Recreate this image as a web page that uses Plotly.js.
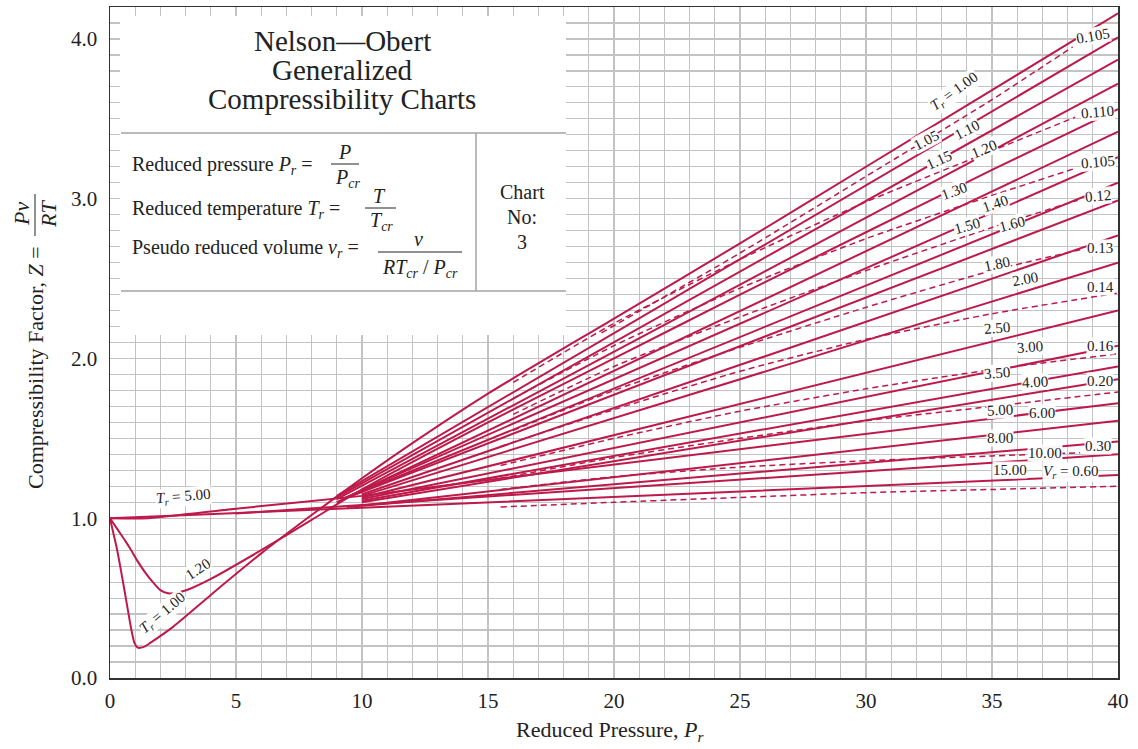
<!DOCTYPE html>
<html><head><meta charset="utf-8">
<script src="https://cdn.plot.ly/plotly-3.0.1.min.js"></script>
<style>html,body{margin:0;padding:0;background:#fff}#chart{width:1138px;height:749px}</style>
</head><body><div id="chart"></div>
<script>
// ---------------- data ----------------
const xTickVals = [0, 5, 10, 15, 20, 25, 30, 35, 40];
const xTickText = ['0', '5', '10', '15', '20', '25', '30', '35', '40'];
const yTickVals = [0, 1, 2, 3, 4];
const yTickText = ['0.0', '1.0', '2.0', '3.0', '4.0'];

// isotherms (solid), reduced temperature Tr
const tr100P = [0, 0.1, 0.26, 0.45, 0.65, 0.85, 0.97, 1.1, 1.35, 1.6, 2.5, 4, 6, 8, 10, 12, 15, 20, 25, 30, 35, 40];
const tr100Z = [1.0, 0.93, 0.82, 0.66, 0.48, 0.30, 0.22, 0.19, 0.195, 0.22, 0.32, 0.52, 0.78, 1.02, 1.25, 1.47, 1.78, 2.25, 2.72, 3.20, 3.68, 4.16];
const tr105P = [9, 40];   const tr105Z = [1.14, 4.01];
const tr110P = [9, 40];   const tr110Z = [1.13, 3.87];
const tr115P = [9, 40];   const tr115Z = [1.12, 3.72];
const tr120P = [0, 0.3, 0.6, 0.8, 1.1, 1.4, 1.7, 2.0, 2.3, 2.7, 3.2, 4, 6, 8, 10, 15, 20, 25, 30, 35, 40];
const tr120Z = [1.0, 0.93, 0.86, 0.81, 0.73, 0.66, 0.60, 0.55, 0.53, 0.535, 0.56, 0.62, 0.80, 0.99, 1.18, 1.60, 2.00, 2.40, 2.79, 3.18, 3.56];
const tr130P = [9, 40];   const tr130Z = [1.10, 3.42];
const tr140P = [9.2, 40]; const tr140Z = [1.12, 3.26];
const tr150P = [9.4, 40]; const tr150Z = [1.13, 3.10];
const tr160P = [9.6, 40]; const tr160Z = [1.14, 2.99];
const tr180P = [10, 40];  const tr180Z = [1.15, 2.77];
const tr200P = [10, 40];  const tr200Z = [1.14, 2.60];
const tr250P = [10, 40];  const tr250Z = [1.13, 2.30];
const tr300P = [10, 40];  const tr300Z = [1.12, 2.08];
const tr350P = [10, 40];  const tr350Z = [1.11, 1.95];
const tr400P = [10, 40];  const tr400Z = [1.10, 1.87];
const tr500P = [0, 1.5, 5, 10, 15, 40]; const tr500Z = [1.0, 1.0, 1.06, 1.14, 1.24, 1.72];
const tr600P = [10, 40];  const tr600Z = [1.08, 1.61];
const tr800P = [9.4, 40]; const tr800Z = [1.07, 1.48];
const tr1000P = [5, 40];  const tr1000Z = [1.03, 1.40];
const tr1500P = [0, 10, 40]; const tr1500Z = [1.0, 1.065, 1.27];

// constant pseudo reduced volume (dashed)
const vrA_P = [19.5, 25, 30, 35, 38.2];      const vrA_Z = [2.16, 2.66, 3.14, 3.62, 3.95];
const vrB_P = [16, 20, 25, 30, 35, 38.3];    const vrB_Z = [1.85, 2.22, 2.62, 2.98, 3.30, 3.51];
const vrC_P = [16, 20, 25, 30, 35, 38.3];    const vrC_Z = [1.75, 2.08, 2.44, 2.75, 3.02, 3.19];
const vrD_P = [16, 20, 25, 30, 35, 38.4];    const vrD_Z = [1.65, 1.95, 2.26, 2.55, 2.82, 2.99];
const vrE_P = [16, 20, 25, 30, 35, 38.5];    const vrE_Z = [1.55, 1.80, 2.07, 2.32, 2.55, 2.68];
const vrF_P = [15.5, 20, 25, 30, 35, 40];    const vrF_Z = [1.45, 1.68, 1.92, 2.12, 2.28, 2.41];
const vrG_P = [15.5, 20, 25, 30, 35, 40];    const vrG_Z = [1.33, 1.50, 1.67, 1.81, 1.93, 2.03];
const vrH_P = [15.5, 20, 25, 30, 35, 40];    const vrH_Z = [1.25, 1.38, 1.50, 1.61, 1.70, 1.79];
const vrI_P = [15.5, 20, 25, 30, 35, 38.5];  const vrI_Z = [1.18, 1.26, 1.32, 1.36, 1.39, 1.41];
const vrJ_P = [15.5, 20, 25, 30, 35, 40];    const vrJ_Z = [1.07, 1.10, 1.13, 1.16, 1.18, 1.20];

// label texts
const trLabels = ['<i>T<sub>r</sub></i> = 1.00', '1.05', '1.10', '1.15', '1.20', '1.30', '1.40', '1.50', '1.60', '1.80',
  '2.00', '2.50', '3.00', '3.50', '4.00', '5.00', '6.00', '8.00', '10.00', '15.00'];
const vrLabels = ['0.105', '0.110', '0.105', '0.12', '0.13', '0.14', '0.16', '0.20', '0.30', '<i>V<sub>r</sub></i> = 0.60'];
const lowLabels = ['<i>T<sub>r</sub></i> = 5.00', '1.20', '<i>T<sub>r</sub></i> = 1.00'];

// ---------------- style & layout ----------------
const RED = '#bd1a4b';
const FONT = 'Liberation Serif, Times New Roman, serif';
const solids = [
  [tr100P, tr100Z, true], [tr105P, tr105Z], [tr110P, tr110Z], [tr115P, tr115Z], [tr120P, tr120Z, true],
  [tr130P, tr130Z], [tr140P, tr140Z], [tr150P, tr150Z], [tr160P, tr160Z], [tr180P, tr180Z],
  [tr200P, tr200Z], [tr250P, tr250Z], [tr300P, tr300Z], [tr350P, tr350Z], [tr400P, tr400Z],
  [tr500P, tr500Z, true], [tr600P, tr600Z], [tr800P, tr800Z], [tr1000P, tr1000Z], [tr1500P, tr1500Z, true]
];
const dashed = [[vrA_P, vrA_Z], [vrB_P, vrB_Z], [vrC_P, vrC_Z], [vrD_P, vrD_Z], [vrE_P, vrE_Z],
  [vrF_P, vrF_Z], [vrG_P, vrG_Z], [vrH_P, vrH_Z], [vrI_P, vrI_Z], [vrJ_P, vrJ_Z]];

const traces = [];
solids.forEach(s => traces.push({
  x: s[0], y: s[1], type: 'scatter', mode: 'lines', hoverinfo: 'skip',
  line: {color: RED, width: 2, shape: s[2] ? 'spline' : 'linear', smoothing: 0.6}
}));
dashed.forEach(s => traces.push({
  x: s[0], y: s[1], type: 'scatter', mode: 'lines', hoverinfo: 'skip',
  line: {color: RED, width: 1.5, dash: '6px,4px', shape: 'spline', smoothing: 0.6}
}));

// label placement (layout, not data)
const trPos = [[33.5, 3.67, -36], [32.4, 3.37, -28], [34.0, 3.43, -27], [32.9, 3.24, -25], [34.7, 3.31, -23],
  [33.5, 3.05, -20], [35.1, 2.97, -19], [34.0, 2.83, -16], [35.8, 2.84, -15], [35.2, 2.59, -12],
  [36.3, 2.50, -10], [35.2, 2.19, -5], [36.5, 2.07, -4], [35.2, 1.91, -5], [36.7, 1.85, -3],
  [35.3, 1.68, -3], [37.0, 1.66, 0], [35.3, 1.50, 0], [37.1, 1.41, 0], [35.7, 1.30, 0]];
const vrPos = [[39.0, 4.02, -10], [39.2, 3.54, -5], [39.2, 3.23, -5], [39.2, 3.02, -5], [39.3, 2.69, 0],
  [39.3, 2.45, 0], [39.3, 2.08, 0], [39.3, 1.86, 0], [39.2, 1.45, 0], [38.1, 1.29, 0]];
const lowPos = [[2.9, 1.13, -5], [3.5, 0.68, -33], [2.1, 0.41, -40]];

const ann = [];
function lab(t, p) {
  ann.push({text: t, x: p[0], y: p[1], xref: 'x', yref: 'y', xanchor: 'center', yanchor: 'middle',
    showarrow: false, textangle: p[2],
    font: {family: FONT, size: 15, color: '#222'}, bgcolor: 'rgba(255,255,255,0.95)', borderpad: 0});
}
trLabels.forEach((t, i) => lab(t, trPos[i]));
vrLabels.forEach((t, i) => lab(t, vrPos[i]));
lowLabels.forEach((t, i) => lab(t, lowPos[i]));

// pixel -> paper helpers for decorations
const PX = x => (x - 110) / 1008;
const PY = y => (678 - y) / 671;
function txt(t, x, y, size, opts) {
  ann.push(Object.assign({text: t, x: PX(x), y: PY(y), xref: 'paper', yref: 'paper', showarrow: false,
    xanchor: 'center', yanchor: 'middle',
    font: {family: FONT, size: size, color: '#222'}}, opts || {}));
}
// info box text
txt('Nelson—Obert', 342, 41, 29);
txt('Generalized', 342, 70, 29);
txt('Compressibility Charts', 342, 99, 29);
txt('Reduced pressure <i>P<sub>r</sub></i> =', 130, 165, 20, {xanchor: 'left'});
txt('<i>P</i>', 344, 152, 20);
txt('<i>P<sub>cr</sub></i>', 347, 178, 20);
txt('Reduced temperature <i>T<sub>r</sub></i> =', 130, 209, 20, {xanchor: 'left'});
txt('<i>T</i>', 379, 196, 20);
txt('<i>T<sub>cr</sub></i>', 381, 222, 20);
txt('Pseudo reduced volume <i>v<sub>r</sub></i> =', 130, 249, 20, {xanchor: 'left'});
txt('<i>v</i>', 418, 239, 20);
txt('<i>RT<sub>cr</sub></i> / <i>P<sub>cr</sub></i>', 420, 268, 20);
txt('Chart', 522, 192, 20);
txt('No:', 522, 217, 20);
txt('3', 522, 242, 20);
// axis titles
txt('Reduced Pressure, <i>P<sub>r</sub></i>', 610, 731, 22);
txt('Compressibility Factor, <i>Z</i> =', 35, 368, 22, {textangle: -90});
txt('<i>Pv</i>', 22, 214, 22, {textangle: -90});
txt('<i>RT</i>', 49, 214, 22, {textangle: -90});

const GREY = '#a3a3a3';
const shapes = [
  {type: 'rect', xref: 'paper', yref: 'paper', x0: PX(120), x1: PX(566), y0: PY(335), y1: PY(16),
    fillcolor: '#fff', line: {width: 0}, layer: 'above'},
  {type: 'line', xref: 'paper', yref: 'paper', x0: PX(121), x1: PX(566), y0: PY(133), y1: PY(133), line: {color: GREY, width: 1.5}},
  {type: 'line', xref: 'paper', yref: 'paper', x0: PX(121), x1: PX(566), y0: PY(291), y1: PY(291), line: {color: GREY, width: 1.5}},
  {type: 'line', xref: 'paper', yref: 'paper', x0: PX(476), x1: PX(476), y0: PY(133), y1: PY(291), line: {color: GREY, width: 1.5}},
  {type: 'line', xref: 'paper', yref: 'paper', x0: PX(331), x1: PX(359), y0: PY(164), y1: PY(164), line: {color: '#222', width: 1}},
  {type: 'line', xref: 'paper', yref: 'paper', x0: PX(365), x1: PX(396), y0: PY(208), y1: PY(208), line: {color: '#222', width: 1}},
  {type: 'line', xref: 'paper', yref: 'paper', x0: PX(378), x1: PX(462), y0: PY(252), y1: PY(252), line: {color: '#222', width: 1}},
  {type: 'line', xref: 'paper', yref: 'paper', x0: PX(35), x1: PX(35), y0: PY(194), y1: PY(236), line: {color: '#222', width: 1}}
];

const layout = {
  width: 1138, height: 749,
  margin: {l: 110, r: 20, t: 7, b: 71},
  paper_bgcolor: '#fff', plot_bgcolor: '#fff',
  showlegend: false,
  font: {family: FONT, color: '#222'},
  xaxis: {range: [0, 40], tickvals: xTickVals, ticktext: xTickText, showgrid: true, gridcolor: '#c3c3c3', gridwidth: 1.2,
    minor: {dtick: 1, showgrid: true, gridcolor: '#c3c3c3', gridwidth: 1.2},
    zeroline: false, showline: true, linecolor: '#333', linewidth: 1.5, mirror: true, ticks: '',
    ticklabelstandoff: 3, tickfont: {family: FONT, size: 21, color: '#222'}, fixedrange: true},
  yaxis: {range: [0, 4.2], tickvals: yTickVals, ticktext: yTickText, showgrid: true, gridcolor: '#c3c3c3', gridwidth: 1.2,
    minor: {dtick: 0.1, tick0: 0, showgrid: true, gridcolor: '#c3c3c3', gridwidth: 1.2},
    zeroline: false, showline: true, linecolor: '#333', linewidth: 1.5, mirror: true, ticks: '',
    ticklabelstandoff: 7, tickfont: {family: FONT, size: 21, color: '#222'}, fixedrange: true},
  annotations: ann,
  shapes: shapes
};
Plotly.newPlot('chart', traces, layout, {displayModeBar: false, staticPlot: true});
</script>
</body></html>
